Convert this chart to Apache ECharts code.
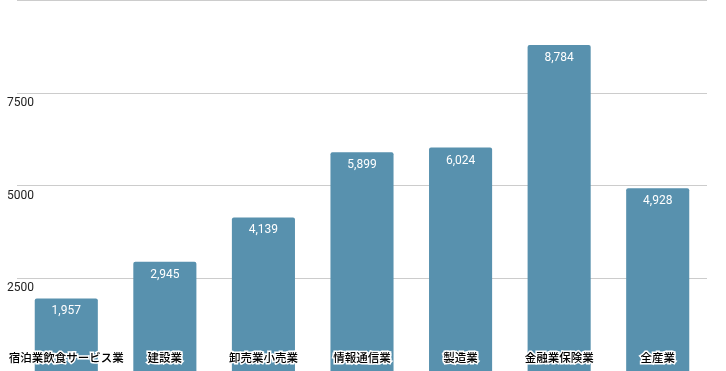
<!DOCTYPE html>
<html><head><meta charset="utf-8">
<script src="https://cdn.jsdelivr.net/npm/echarts@6/dist/echarts.min.js"></script>
<style>html,body{margin:0;padding:0;background:#fff}#c{width:726px;height:371px}</style>
</head><body><div id="c"></div>
<script>
const categories = ['宿泊業飲食サービス業','建設業','卸売業小売業','情報通信業','製造業','金融業保険業','全産業'];
const values = [1957, 2945, 4139, 5899, 6024, 8784, 4928];
const yTicks = [0, 2500, 5000, 7500, 10000];

const chart = echarts.init(document.getElementById('c'), null, {renderer:'canvas'});
chart.setOption({
  animation: false,
  grid: {left: 17, right: 19, top: 0, bottom: 0, containLabel: false},
  xAxis: {
    type: 'category', data: categories, z: 10,
    axisLine: {show: false}, axisTick: {show: false},
    axisLabel: {
      inside: true, margin: 8, interval: 0,
      color: '#000', fontSize: 11.5, fontWeight: 500, fontFamily: 'Noto Sans CJK JP',
      textBorderColor: '#fff', textBorderWidth: 3
    }
  },
  yAxis: {
    type: 'value', min: yTicks[0], max: yTicks[yTicks.length-1], interval: 2500,
    axisLine: {show: false}, axisTick: {show: false},
    splitLine: {lineStyle: {color: '#cccccc', width: 1}},
    axisLabel: {
      showMinLabel: false, showMaxLabel: false,
      formatter: v => String(v),
      align: 'left', margin: 10, verticalAlign: 'top', padding: [4,0,0,0],
      color: '#222', fontSize: 12, fontFamily: 'Roboto'
    }
  },
  series: [{
    type: 'bar', data: values, barWidth: '64%',
    itemStyle: {color: '#5891ae', borderRadius: [2,2,0,0]},
    label: {
      show: true, position: 'insideTop', distance: 7,
      color: '#fff', fontSize: 12, fontFamily: 'Roboto',
      formatter: p => p.value.toLocaleString('en-US')
    }
  }]
});
</script></body></html>
